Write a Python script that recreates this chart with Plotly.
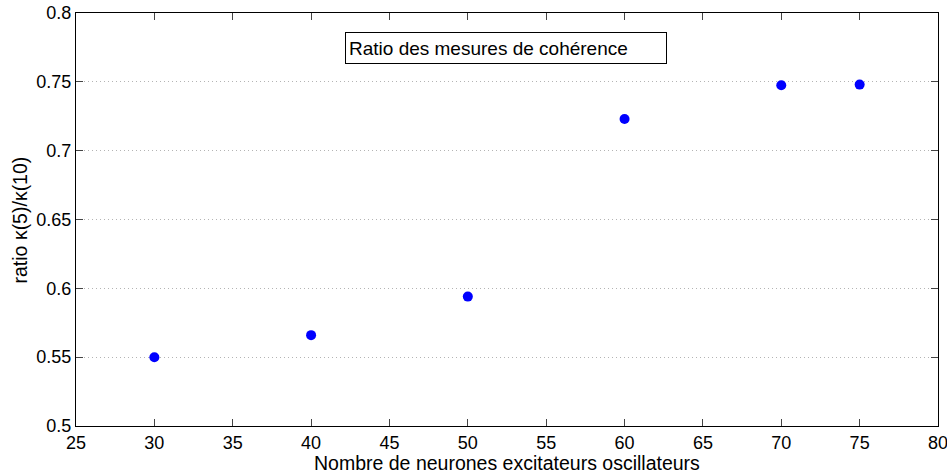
import plotly.graph_objects as go

# nombre de neurones excitateurs oscillateurs vs ratio kappa(5)/kappa(10)
neurones = [30, 40, 50, 60, 70, 75]
ratio = [0.550, 0.566, 0.594, 0.723, 0.7475, 0.748]

x_ticks = [25, 30, 35, 40, 45, 50, 55, 60, 65, 70, 75, 80]
y_ticks = [0.5, 0.55, 0.6, 0.65, 0.7, 0.75, 0.8]
y_tick_text = ['0.5', '0.55', '0.6', '0.65', '0.7', '0.75', '0.8']

font_family = 'Liberation Sans, Arial, sans-serif'

fig = go.Figure()
fig.add_trace(go.Scatter(
    x=neurones,
    y=ratio,
    mode='markers',
    marker=dict(color='#0000ff', size=10),
    showlegend=False,
))

axis_common = dict(
    showline=True,
    linecolor='black',
    linewidth=1,
    mirror='ticks',
    ticks='inside',
    ticklen=7,
    tickcolor='#444444',
    zeroline=False,
    automargin=False,
    ticklabeloverflow='allow',
    tickfont=dict(size=18, color='black', family=font_family),
)

fig.update_xaxes(
    range=[25, 80],
    tickvals=x_ticks,
    showgrid=False,
    **axis_common,
)
fig.update_yaxes(
    range=[0.5, 0.8],
    tickvals=y_ticks,
    ticktext=y_tick_text,
    showgrid=True,
    gridcolor='#b4b4b4',
    griddash='1px,3px',
    gridwidth=1,
    **axis_common,
)

# axis titles placed as annotations so the margins stay fixed
fig.add_annotation(
    x=0.5, y=-0.09, xref='paper', yref='paper',
    xanchor='center', yanchor='middle',
    text='Nombre de neurones excitateurs oscillateurs',
    showarrow=False,
    font=dict(size=19.5, color='black', family=font_family),
)
fig.add_annotation(
    x=-0.065, y=0.5, xref='paper', yref='paper',
    xanchor='center', yanchor='middle',
    text='ratio κ(5)/κ(10)',
    textangle=-90,
    showarrow=False,
    font=dict(size=19.5, color='black', family=font_family),
)

fig.add_annotation(
    x=0.4988, y=0.955, xref='paper', yref='paper',
    text='Ratio des mesures de cohérence',
    showarrow=False,
    align='left',
    width=314,
    height=24,
    borderpad=3,
    bordercolor='black',
    borderwidth=1,
    bgcolor='white',
    font=dict(size=19, color='black', family=font_family),
)

fig.update_layout(
    width=947,
    height=474,
    margin=dict(l=76, r=9, t=13, b=48),
    plot_bgcolor='white',
    paper_bgcolor='white',
)

fig.write_html('out.html', config={'displayModeBar': False},
               post_script="document.body.style.margin='0';")
